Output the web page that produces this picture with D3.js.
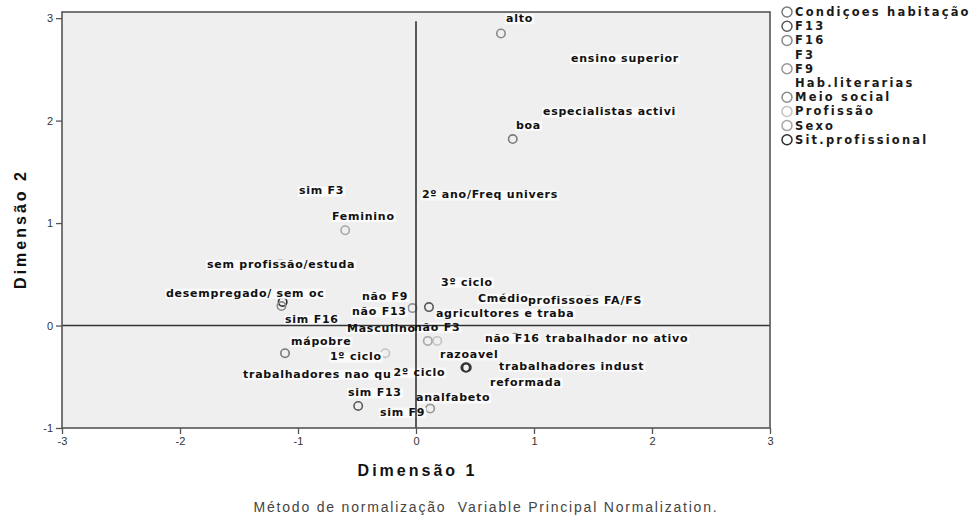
<!DOCTYPE html>
<html><head><meta charset="utf-8">
<script src="https://cdn.jsdelivr.net/npm/d3@7"></script>
<style>body{margin:0;background:#fff}</style>
</head><body><svg id="c" width="975" height="521"></svg>
<script>
// ---- data ----
const categories = ["alto","ensino superior","especialistas activi","boa","sim F3","2º ano/Freq univers","Feminino",
  "sem profissão/estuda","3º ciclo","desempregado/ sem oc","não F9","Cmédio","profissoes FA/FS","não F13",
  "agricultores e traba","sim F16","Masculino","não F3","não F16","trabalhador no ativo","mápobre","razoavel",
  "1º ciclo","trabalhadores nao qu","2º ciclo","trabalhadores indust","reformada","sim F13","analfabeto","sim F9"];
const variableOf = ["Meio social","Hab.literarias","Profissão","Condiçoes habitação","F3","Hab.literarias","Sexo",
  "Profissão","Hab.literarias","Sit.profissional","F9","Hab.literarias","Profissão","F13",
  "Profissão","F16","Sexo","F3","F16","Sit.profissional","Condiçoes habitação","Condiçoes habitação",
  "Hab.literarias","Profissão","Hab.literarias","Profissão","Sit.profissional","F13","Hab.literarias","F9"];
const dim1 = [0.72,1.75,1.63,0.82,-0.80,0.60,-0.60,
  -1.15,0.42,-1.13,-0.03,0.72,1.46,0.11,
  0.18,-1.14,0.10,0.19,0.84,0.43,-1.11,0.42,
  -0.53,-0.26,0.05,1.31,0.42,-0.49,0.31,0.12];
const dim2 = [2.85,2.61,2.08,1.82,1.32,1.28,0.93,
  0.60,0.43,0.23,0.17,0.27,0.25,0.18,
  -0.15,0.19,-0.15,-0.01,-0.12,-0.41,-0.27,-0.41,
  -0.30,-0.27,-0.45,-0.39,-0.41,-0.785,-0.70,-0.81];
const labelDim1 = [0.763,1.314,1.076,0.847,-0.992,0.05,-0.712,
  -1.771,0.212,-2.119,-0.458,0.525,0.949,-0.542,
  0.169,-1.11,-0.585,-0.017,0.585,1.10,-1.059,0.203,
  -0.729,-1.466,-0.19,0.703,0.627,-0.576,0.0,-0.305];
const labelDim2 = [2.96,2.57,2.05,1.92,1.28,1.24,1.03,
  0.56,0.39,0.28,0.25,0.23,0.21,0.10,
  0.08,0.02,-0.06,-0.05,-0.16,-0.16,-0.19,-0.32,
  -0.34,-0.51,-0.49,-0.43,-0.59,-0.69,-0.74,-0.88];
const legendVariables = ["Condiçoes habitação","F13","F16","F3","F9","Hab.literarias","Meio social","Profissão","Sexo","Sit.profissional"];
const xTicks = [-3,-2,-1,0,1,2,3];
const yTicks = [-1,0,1,2,3];
const xTitle = "Dimensão 1";
const yTitle = "Dimensão 2";
const footnote = "Método de normalização  Variable Principal Normalization.";

// ---- styles ----
const markerColor = {
  "Condiçoes habitação":"#7a7a7a","F13":"#5a5a5a","F16":"#8a8a8a","F3":null,"F9":"#959595",
  "Hab.literarias":null,"Meio social":"#8a8a8a","Profissão":"#c4c4c4","Sexo":"#a6a6a6","Sit.profissional":"#2e2e2e"
};
const labelFont = "'DejaVu Sans', sans-serif";
const axisFont = "'Liberation Sans', Arial, sans-serif";

const svg = d3.select("#c");
const x = d3.scaleLinear().domain([-3,3]).range([62,770]);
const y = d3.scaleLinear().domain([-1,3.06]).range([428,12]);

// plot background
svg.append("rect").attr("x",x(-3)).attr("y",y(3.06)).attr("width",x(3)-x(-3)).attr("height",y(-1)-y(3.06))
  .attr("fill","#efefef");

const pts = categories.map((c,i)=>({name:c, v:variableOf[i], d1:dim1[i], d2:dim2[i], l1:labelDim1[i], l2:labelDim2[i]}));

const markLayer = svg.append("g");
const bgLayer = svg.append("g");
const lineLayer = svg.append("g");
const textLayer = svg.append("g");

markLayer.selectAll("circle").data(pts.filter(d=>markerColor[d.v])).join("circle")
  .attr("cx",d=>x(d.d1)).attr("cy",d=>y(d.d2)).attr("r",4.2)
  .attr("fill","none").attr("stroke",d=>markerColor[d.v]).attr("stroke-width",1.6);

const texts = textLayer.selectAll("text").data(pts).join("text")
  .attr("x",d=>x(d.l1)).attr("y",d=>y(d.l2))
  .attr("fill","#111")
  .style("font-family",labelFont).style("font-weight","bold").style("font-size","11px")
  .style("letter-spacing","0.75px")
  .text(d=>d.name);

texts.each(function(){
  const b = this.getBBox();
  bgLayer.append("rect").attr("x",b.x-1).attr("y",b.y+2).attr("width",b.width+2).attr("height",b.height-3)
    .attr("fill","#fbfbfb");
});

// zero lines
lineLayer.append("line").attr("x1",x(0)).attr("x2",x(0)).attr("y1",y(2.97)).attr("y2",y(-1))
  .attr("stroke","#333").attr("stroke-width",1.6);
lineLayer.append("line").attr("x1",x(-3)).attr("x2",x(3)).attr("y1",y(0)).attr("y2",y(0))
  .attr("stroke","#333").attr("stroke-width",1.6);

// axes
const fmt = d => d < 0 ? "-" + Math.abs(d) : String(d);
const gx = svg.append("g").attr("transform",`translate(0,${y(-1)})`)
  .call(d3.axisBottom(x).tickValues(xTicks).tickFormat(fmt).tickSize(6).tickPadding(3));
const gy = svg.append("g").attr("transform",`translate(${x(-3)},0)`)
  .call(d3.axisLeft(y).tickValues(yTicks).tickFormat(fmt).tickSize(6).tickPadding(3));
[gx,gy].forEach(g=>{
  g.select(".domain").remove();
  g.selectAll(".tick line").attr("stroke","#555").attr("stroke-width",1.3);
  g.selectAll(".tick text").attr("fill","#333").style("font-family",axisFont).style("font-size","11px");
});

// frame
svg.append("rect").attr("x",x(-3)).attr("y",y(3.06)).attr("width",x(3)-x(-3)).attr("height",y(-1)-y(3.06))
  .attr("fill","none").attr("stroke","#555").attr("stroke-width",1.6);

// legend
const lg = svg.append("g");
legendVariables.forEach((v,i)=>{
  const cy = 12 + i*14.2;
  if (markerColor[v]) lg.append("circle").attr("cx",787).attr("cy",cy).attr("r",5)
    .attr("fill","none").attr("stroke",markerColor[v]).attr("stroke-width",1.5);
  lg.append("text").attr("x",795).attr("y",cy+4).text(v)
    .attr("fill","#1a1a1a").style("font-family",labelFont).style("font-weight","bold")
    .style("font-size","11.5px").style("letter-spacing","2.2px");
});

// titles
svg.append("text").attr("x",x(0)+1.5).attr("y",476).attr("text-anchor","middle").text(xTitle)
  .attr("fill","#111").style("font-family",axisFont).style("font-weight","bold")
  .style("font-size","16px").style("letter-spacing","3px");
svg.append("text").attr("transform",`translate(26,${(y(-1)+y(3.06))/2 + 9}) rotate(-90)`).attr("text-anchor","middle").text(yTitle)
  .attr("fill","#111").style("font-family",axisFont).style("font-weight","bold")
  .style("font-size","16px").style("letter-spacing","3px");
svg.append("text").attr("x",486).attr("y",512).attr("text-anchor","middle").text(footnote)
  .attr("fill","#444").style("font-family",axisFont).style("white-space","pre")
  .style("font-size","14px").style("letter-spacing","1.8px");
</script></body></html>
